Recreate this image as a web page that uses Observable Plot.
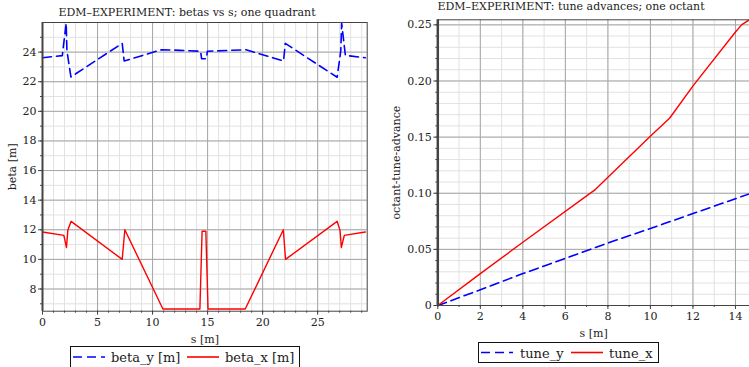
<!DOCTYPE html>
<html><head><meta charset="utf-8">
<script src="https://cdn.jsdelivr.net/npm/d3@7"></script>
<script src="https://cdn.jsdelivr.net/npm/@observablehq/plot@0.6"></script>
<style>
body{margin:0;background:#fff;overflow:hidden;width:749px;height:367px;position:relative;font-family:"DejaVu Serif","Liberation Serif",serif;color:#222;}
.panel{position:absolute;top:0;}
.title{position:absolute;font-size:11px;white-space:nowrap;transform:translateX(-50%);color:#222;}
.legend{position:absolute;border:1.5px solid #111;box-sizing:border-box;background:#fff;}
.legend svg{position:absolute;left:0;top:0;overflow:visible;}
</style></head><body>
<div id="left" class="panel" style="left:0;width:375px;height:352px"></div>
<div id="right" class="panel" style="left:375px;width:380px;height:352px"></div>
<div class="title" style="left:187px;top:6px">EDM–EXPERIMENT: betas vs s; one quadrant</div>
<div class="title" style="left:571px;top:0px">EDM–EXPERIMENT: tune advances; one octant</div>
<div id="legL" class="legend" style="left:70px;top:346px;width:230px;height:24px"></div>
<div id="legR" class="legend" style="left:478px;top:342px;width:181px;height:21px"></div>
<script>
// ---- left chart: betas vs s ----
const sBetaY = [0, 1.8, 1.9, 2.15, 2.22, 2.58, 7.24, 7.42, 10.8, 12.5, 14.36, 14.46, 14.88, 14.98, 18.5, 21.9, 22.06, 26.77, 27.1, 27.18, 27.42, 27.52, 29.33];
const betaY  = [23.62, 23.76, 24.4, 25.95, 24.1, 22.32, 24.59, 23.4, 24.16, 24.12, 24.06, 23.55, 23.55, 24.06, 24.16, 23.4, 24.59, 22.3, 24.1, 25.95, 24.4, 23.78, 23.62];
const sBetaX = [0, 1.94, 2.18, 2.3, 2.6, 7.24, 7.48, 10.94, 14.3, 14.5, 14.84, 15.04, 18.42, 21.88, 22.08, 26.77, 27.03, 27.15, 27.42, 29.33];
const betaX  = [11.85, 11.62, 10.8, 11.96, 12.57, 10.0, 12.0, 6.65, 6.65, 11.9, 11.9, 6.65, 6.65, 12.0, 10.0, 12.57, 11.96, 10.8, 11.62, 11.85];
const leftXTicks = [0, 5, 10, 15, 20, 25];
const leftXMinor = d3.range(0, 30, 1);
const leftYTicks = [8, 10, 12, 14, 16, 18, 20, 22, 24];
const leftYMinor = d3.range(7, 26, 1);
const leftSeries = ["beta_y [m]", "beta_x [m]"];

// ---- right chart: tune advances ----
const sTuneY = [0, 2, 4, 8, 10, 14.66];
const tuneY  = [0, 0.014, 0.0284, 0.0557, 0.0686, 0.0995];
const sTuneX = [0, 2, 4, 7.42, 9.97, 10.9, 12.04, 14.0, 14.3, 14.5, 14.66];
const tuneX  = [0, 0.0284, 0.0563, 0.1035, 0.1503, 0.1668, 0.1965, 0.2436, 0.2502, 0.2526, 0.2545];
const rightXTicks = [0, 2, 4, 6, 8, 10, 12, 14];
const rightXMinor = d3.range(0, 15, 1);
const rightYTicks = [0, 0.05, 0.10, 0.15, 0.20, 0.25];
const rightYMinor = d3.range(0, 0.255, 0.01);
const rightSeries = ["tune_y", "tune_x"];

const BLUE = "#0000ff", RED = "#ff0000", DASH = "9,5";
const MINOR = "#e2e2e2", MAJOR = "#a6a6a6", FRAME = "#444";
const FONT = "'DejaVu Serif', 'Liberation Serif', serif";

const byY = sBetaY.map((s, i) => ({s, v: betaY[i]}));
const byX = sBetaX.map((s, i) => ({s, v: betaX[i]}));
const tY = sTuneY.map((s, i) => ({s, v: tuneY[i]}));
const tX = sTuneX.map((s, i) => ({s, v: tuneX[i]}));

const style = {fontFamily: FONT, fontSize: "11px", color: "#222", background: "transparent", overflow: "visible"};

const leftPlot = Plot.plot({
  width: 375, height: 352,
  marginTop: 22, marginBottom: 41.3, marginLeft: 42, marginRight: 8.3,
  style,
  x: {domain: [0, 29.5]},
  y: {domain: [6.5, 26.0]},
  marks: [
    Plot.gridX({ticks: leftXMinor, stroke: MINOR, strokeOpacity: 1}),
    Plot.gridY({ticks: leftYMinor, stroke: MINOR, strokeOpacity: 1}),
    Plot.gridX({ticks: leftXTicks, stroke: MAJOR, strokeOpacity: 1}),
    Plot.gridY({ticks: leftYTicks, stroke: MAJOR, strokeOpacity: 1}),
    Plot.line(byY, {x: "s", y: "v", stroke: BLUE, strokeWidth: 1.6, strokeDasharray: DASH}),
    Plot.line(byX, {x: "s", y: "v", stroke: RED, strokeWidth: 1.4}),
    Plot.frame({stroke: FRAME, strokeWidth: 1}),
    Plot.ruleX([0], {stroke: FRAME, strokeWidth: 2}),
    Plot.axisX({ticks: leftXMinor, tickSize: 2, tickFormat: () => "", label: null, stroke: FRAME}),
    Plot.axisX({ticks: leftXTicks, tickSize: 4, tickPadding: 3, label: "s [m]", labelAnchor: "center", labelArrow: "none", labelOffset: 32, stroke: FRAME}),
    Plot.axisY({ticks: leftYMinor, tickSize: 2, tickFormat: () => "", label: null, stroke: FRAME}),
    Plot.axisY({ticks: leftYTicks, tickSize: 4, tickPadding: 2, label: "beta [m]", labelAnchor: "center", labelArrow: "none", labelOffset: 34, stroke: FRAME})
  ]
});
document.getElementById("left").append(leftPlot);

const rightPlot = Plot.plot({
  width: 380, height: 352,
  marginTop: 19.3, marginBottom: 47, marginLeft: 62.3, marginRight: 6,
  style,
  x: {domain: [0, 14.66]},
  y: {domain: [0, 0.2545]},
  marks: [
    Plot.gridX({ticks: rightXMinor, stroke: MINOR, strokeOpacity: 1}),
    Plot.gridY({ticks: rightYMinor, stroke: MINOR, strokeOpacity: 1}),
    Plot.gridX({ticks: rightXTicks, stroke: MAJOR, strokeOpacity: 1}),
    Plot.gridY({ticks: rightYTicks, stroke: MAJOR, strokeOpacity: 1}),
    Plot.line(tY, {x: "s", y: "v", stroke: BLUE, strokeWidth: 1.6, strokeDasharray: DASH}),
    Plot.line(tX, {x: "s", y: "v", stroke: RED, strokeWidth: 1.4}),
    Plot.frame({stroke: FRAME, strokeWidth: 1}),
    Plot.ruleX([0], {stroke: FRAME, strokeWidth: 2.5}),
    Plot.axisX({ticks: rightXMinor, tickSize: 2, tickFormat: () => "", label: null, stroke: FRAME}),
    Plot.axisX({ticks: rightXTicks, tickSize: 4, tickPadding: 3, label: "s [m]", labelAnchor: "center", labelArrow: "none", labelOffset: 31, stroke: FRAME}),
    Plot.axisY({ticks: rightYMinor, tickSize: 2, tickFormat: () => "", label: null, stroke: FRAME}),
    Plot.axisY({ticks: rightYTicks, tickSize: 4, tickPadding: 2, tickFormat: d => d === 0 ? "0" : d.toFixed(2), label: "octant-tune-advance", labelAnchor: "center", labelArrow: "none", labelOffset: 46, stroke: FRAME})
  ]
});
document.getElementById("right").append(rightPlot);

// legends
function legend(id, names, items) {
  const el = document.getElementById(id);
  const w = el.clientWidth, h = el.clientHeight;
  let html = `<svg width="${w}" height="${h}">`;
  items.forEach((it, i) => {
    html += `<line x1="${it.x0}" x2="${it.x1}" y1="${it.y}" y2="${it.y}" stroke="${i === 0 ? BLUE : RED}" stroke-width="1.6" ${i === 0 ? `stroke-dasharray="${DASH}"` : ""}/>`;
    html += `<text x="${it.tx}" y="${it.ty}" style="font-family:${FONT};font-size:13px" fill="#222">${names[i]}</text>`;
  });
  html += "</svg>";
  el.innerHTML = html;
}
legend("legL", leftSeries, [
  {x0: 2, x1: 34, y: 10, tx: 40, ty: 15},
  {x0: 116, x1: 148, y: 10, tx: 154, ty: 15}
]);
legend("legR", rightSeries, [
  {x0: 2, x1: 34, y: 9.5, tx: 41, ty: 15},
  {x0: 92, x1: 124, y: 9.5, tx: 130, ty: 15}
]);
</script>
</body></html>
